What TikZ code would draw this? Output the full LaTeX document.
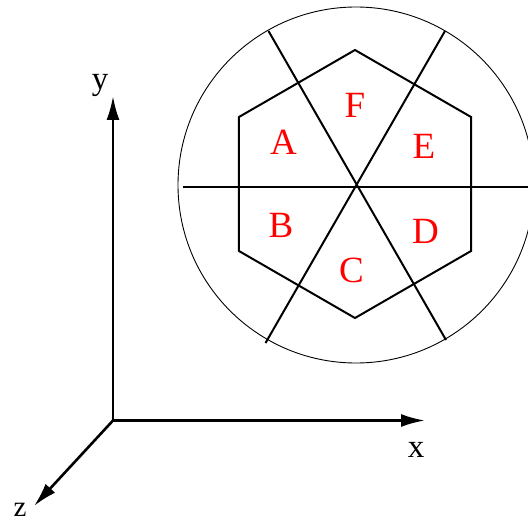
\documentclass[tikz,border=0pt]{standalone}
\usepackage{fontspec}
\setmainfont{Liberation Serif}
\usetikzlibrary{arrows.meta,calc}
\begin{document}
\begin{tikzpicture}[x=1pt,y=-1pt,
  seg/.style={line width=2pt, color=black},
  axis/.style={line width=2.6pt, -{Latex[length=24pt,width=13pt]}},
  region/.style={text=red, font=\fontsize{37}{37}\selectfont, inner sep=0pt},
  axlabel/.style={text=black, font=\fontsize{33}{33}\selectfont, inner sep=0pt}]
\useasboundingbox (0,0) rectangle (528,527);
\clip (0,0) rectangle (528,527);
% circle and hexagon
\coordinate (c) at (356,185);
\coordinate (hc) at (355,184);
\draw[line width=0.9pt] (c) circle[radius=178];
\draw[seg] ($(hc)+(90:134)$) -- ($(hc)+(150:134)$) -- ($(hc)+(210:134)$) -- ($(hc)+(270:134)$) -- ($(hc)+(330:134)$) -- ($(hc)+(30:134)$) -- cycle;
% dividing lines
\coordinate (h1) at (183,187);
\coordinate (h2) at (540,187);
\coordinate (d1a) at (268.5,31);
\coordinate (d1b) at (446,340);
\coordinate (d2a) at (445,31);
\coordinate (d2b) at (265.5,343);
\draw[seg] (h1) -- (h2);
\draw[seg] (d1a) -- (d1b);
\draw[seg] (d2a) -- (d2b);
% region labels
\node[region] (F) at (355,105.5) {F};
\node[region] (A) at (283.5,142.5) {A};
\node[region] (E) at (424,146.5) {E};
\node[region] (B) at (281,225.5) {B};
\node[region] (D) at (425.5,231.5) {D};
\node[region] (C) at (351.5,270.5) {C};
% axes
\coordinate (o) at (113,420.5);
\coordinate (ytip) at (113,96);
\coordinate (xtip) at (425,420.5);
\coordinate (ztip) at (34,506);
\draw[axis] (o) -- (ytip);
\draw[axis] (o) -- (xtip);
\draw[axis] (o) -- (ztip);
\node[axlabel, anchor=base] (ylab) at (100,89) {y};
\node[axlabel, anchor=base] (xlab) at (416,457) {x};
\node[axlabel, anchor=base, font=\fontsize{29}{29}\selectfont] (zlab) at (20,516) {z};
\end{tikzpicture}
\end{document}
